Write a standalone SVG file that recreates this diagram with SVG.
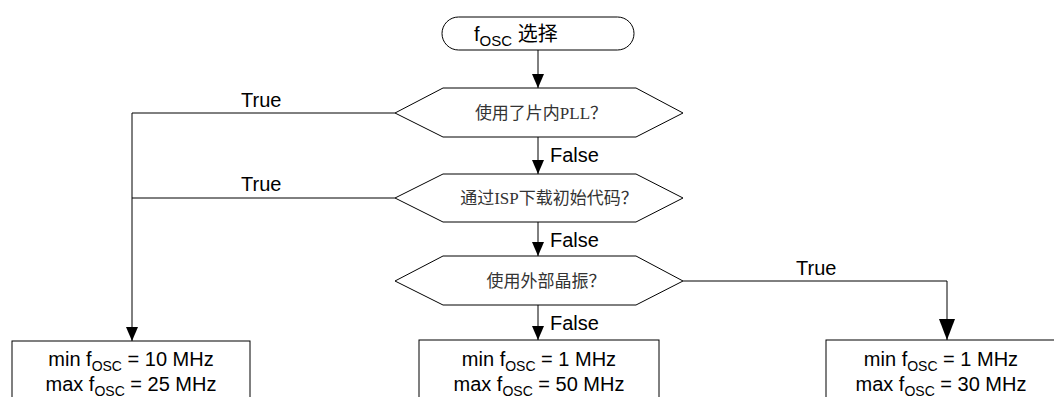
<svg xmlns="http://www.w3.org/2000/svg" width="1054" height="397" viewBox="0 0 1054 397">
<defs>
<style>
.shape{fill:#fff;stroke:#000;stroke-width:1}
.conn{fill:none;stroke:#000;stroke-width:1}
.lbl{font-family:"Liberation Sans",Arial,sans-serif;font-size:20px;fill:#000}
.q{font-family:"Liberation Serif","Noto Sans CJK SC",serif;font-size:17px;fill:#333;text-anchor:middle}
.val{font-family:"Liberation Sans",Arial,sans-serif;font-size:20px;fill:#000;text-anchor:middle}
.sub{font-size:14px}
</style>
<marker id="arr" markerUnits="userSpaceOnUse" markerWidth="14" markerHeight="12" refX="14" refY="6" orient="auto">
<path d="M0,0 L14,6 L0,12 z" fill="#000"/>
</marker>
<marker id="arrBig" markerUnits="userSpaceOnUse" markerWidth="21" markerHeight="16" refX="21" refY="8" orient="auto">
<path d="M0,0 L21,8 L0,16 z" fill="#000"/>
</marker>
</defs>
<rect width="1054" height="397" fill="#fff"/>
<g id="connectors">
<path class="conn" d="M538,50 L538,88" marker-end="url(#arr)"/>
<path class="conn" d="M538,137 L538,174" marker-end="url(#arr)"/>
<path class="conn" d="M538,222 L538,256" marker-end="url(#arr)"/>
<path class="conn" d="M538,305 L538,340" marker-end="url(#arr)"/>
<path class="conn" d="M395,113 L132,113 L132,341" marker-end="url(#arr)"/>
<path class="conn" d="M395,198 L132,198"/>
<path class="conn" d="M683,281 L947,281 L947,340" marker-end="url(#arrBig)"/>
<text class="lbl" x="550" y="162">False</text>
<text class="lbl" x="550" y="247">False</text>
<text class="lbl" x="550" y="330">False</text>
<text class="lbl" x="241" y="107">True</text>
<text class="lbl" x="241" y="191">True</text>
<text class="lbl" x="796" y="275">True</text>
</g>
<g id="start">
<rect class="shape" x="442" y="17" width="192" height="33" rx="16.5" ry="16.5"/>
<text x="474" y="41" style="font-family:'Liberation Sans','Noto Sans CJK SC',sans-serif;font-size:20px">f<tspan dy="5" font-size="15">OSC</tspan><tspan dy="-5"> 选择</tspan></text>
</g>
<g id="q1">
<polygon class="shape" points="395,113 443,88 636,88 683,113 636,137 443,137"/>
<text class="q" x="541" y="119">使用了片内PLL？</text>
</g>
<g id="q2">
<polygon class="shape" points="395,198 443,174 636,174 683,198 636,222 443,222"/>
<text class="q" x="549" y="204">通过ISP下载初始代码？</text>
</g>
<g id="q3">
<polygon class="shape" points="395,281 443,256 636,256 683,281 636,305 443,305"/>
<text class="q" x="546" y="287">使用外部晶振？</text>
</g>
<g id="r1">
<rect class="shape" x="12" y="341" width="238" height="70"/>
<text class="val" x="131" y="366">min f<tspan class="sub" dy="5">OSC</tspan><tspan dy="-5"> = 10 MHz</tspan></text>
<text class="val" x="131" y="391">max f<tspan class="sub" dy="5">OSC</tspan><tspan dy="-5"> = 25 MHz</tspan></text>
</g>
<g id="r2">
<rect class="shape" x="419" y="340" width="240" height="70"/>
<text class="val" x="539" y="366">min f<tspan class="sub" dy="5">OSC</tspan><tspan dy="-5"> = 1 MHz</tspan></text>
<text class="val" x="539" y="391">max f<tspan class="sub" dy="5">OSC</tspan><tspan dy="-5"> = 50 MHz</tspan></text>
</g>
<g id="r3">
<rect class="shape" x="826" y="340" width="240" height="70"/>
<text class="val" x="941" y="366">min f<tspan class="sub" dy="5">OSC</tspan><tspan dy="-5"> = 1 MHz</tspan></text>
<text class="val" x="941" y="391">max f<tspan class="sub" dy="5">OSC</tspan><tspan dy="-5"> = 30 MHz</tspan></text>
</g>
</svg>
